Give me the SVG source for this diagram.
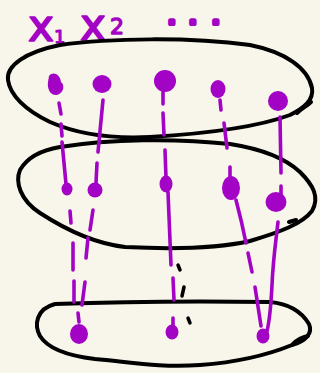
<svg xmlns="http://www.w3.org/2000/svg" width="320" height="373" viewBox="0 0 320 373">
<style>
.sheet{fill:none;stroke:#000;stroke-width:4;stroke-linecap:round;stroke-linejoin:round}
.tick{fill:none;stroke:#000;stroke-width:3.5;stroke-linecap:round}
.fib{fill:none;stroke:#a303c4;stroke-width:3.6;stroke-linecap:round;stroke-linejoin:round}
.pt{fill:#a303c4}
.lbl{fill:#a303c4;stroke:#a303c4;stroke-linejoin:round;font-family:"DejaVu Sans","Liberation Sans",sans-serif}
</style>
<rect width="320" height="373" fill="#f8f6ea"/>
<g id="labels">
<text class="lbl" x="28" y="41" font-size="44" stroke-width="1.6">x<tspan font-size="18" stroke-width="1.2" dy="2">1</tspan></text>
<text class="lbl" x="80" y="40" font-size="44" stroke-width="1.6">x<tspan font-size="22" stroke-width="1.4" dx="4" dy="-6">2</tspan></text>
<text class="lbl" font-size="20" font-weight="bold" stroke-width="4" x="168 189 212" y="24">...</text>
</g>
<g id="sheet-top">
<path class="sheet" d="M60,45 C110,38 190,37 250,45 C285,52 308,68 312,88 C314,100 304,108 290,115 C255,128 200,134 150,137 C110,139 75,133 50,122 C25,110 10,95 8,80 C6,66 25,52 60,45 Z"/>
<path class="sheet" d="M297,113 C302,108 307,106 311,102"/>
</g>
<g id="sheet-middle">
<path class="sheet" d="M60,147 C110,139 175,138 230,144 C262,149 285,158 300,172 C313,185 320,197 312,211 C302,224 280,232 250,241 C215,249 165,249 125,247 C90,243 60,226 40,213 C20,200 15,182 20,170 C28,156 42,150 60,147 Z"/>
<path class="sheet" d="M289,222 L296,220"/>
</g>
<g id="sheet-bottom">
<path class="sheet" d="M55,304 C110,302 200,301 270,302 C292,304 303,314 309,324 C313,333 306,341 292,345 C270,354 240,362 200,365 C160,368 130,362 95,359 C70,356 48,349 40,336 C34,325 36,309 55,304 Z"/>
<path class="sheet" d="M293,344 C298,339 303,337 308,336"/>
</g>
<g id="connectors">
<path class="fib" d="M59,103 L61,114 M61,124 L62,136 M62,142 L66,184 M70,211 L71,223 M73,243 L73,270 M74,281 L74,302"/>
<path class="fib" d="M103,100 L98,152 M97,163 L96,183 M93,210 L90,230 M88,238 L86,258 M85,282 L82,305"/>
<path class="fib" d="M163,92 L163,104 M163,113 L164,135 M165,150 L166,178 M168,192 L171,265 M173,278 L174,300"/>
<path class="fib" d="M220,100 L221,110 M224,123 L227,148 M230,167 L230,180 M236,200 C240,215 243,228 246,243 M248,253 L252,272 M255,287 L261,326"/>
<path class="fib" d="M280,117 L281,173 M281,186 L281,195 M278,222 C276,240 273,260 272,285 C271,305 270,322 266,335"/>
</g>
<g id="ticks">
<path class="tick" d="M178,265 L180,270 M184,287 L182,296 M188,318 L190,323"/>
</g>
<g id="p-top-1"><path class="pt" d="M49,76 C53,71 60,74 61,82 C65,85 64,93 57,95 C50,96 47,88 48,82 Z"/></g>
<g id="p-top-2"><ellipse class="pt" cx="102" cy="84" rx="9.5" ry="9"/></g>
<g id="p-top-3"><circle class="pt" cx="165" cy="81" r="11"/></g>
<g id="p-top-4"><ellipse class="pt" cx="218" cy="89" rx="7.5" ry="9"/></g>
<g id="p-top-5"><ellipse class="pt" cx="278" cy="101" rx="10" ry="10"/></g>
<g id="p-mid-1"><ellipse class="pt" cx="67" cy="189" rx="5.5" ry="6.5"/></g>
<g id="p-mid-2"><ellipse class="pt" cx="95" cy="190" rx="7.5" ry="7.5"/></g>
<g id="p-mid-3"><ellipse class="pt" cx="166" cy="184" rx="6.5" ry="8.5"/></g>
<g id="p-mid-4"><ellipse class="pt" cx="231" cy="188" rx="9" ry="12"/></g>
<g id="p-mid-5"><ellipse class="pt" cx="276" cy="202" rx="10.5" ry="10"/></g>
<g id="p-bot-1"><path class="fib" d="M78,313 L79,322"/><ellipse class="pt" cx="79" cy="334" rx="9" ry="10"/></g>
<g id="p-bot-2"><path class="fib" d="M173,318 L173,326"/><ellipse class="pt" cx="172" cy="332" rx="6.5" ry="7.5"/></g>
<g id="p-bot-3"><ellipse class="pt" cx="263" cy="336" rx="6.5" ry="7.5"/></g>
</svg>
